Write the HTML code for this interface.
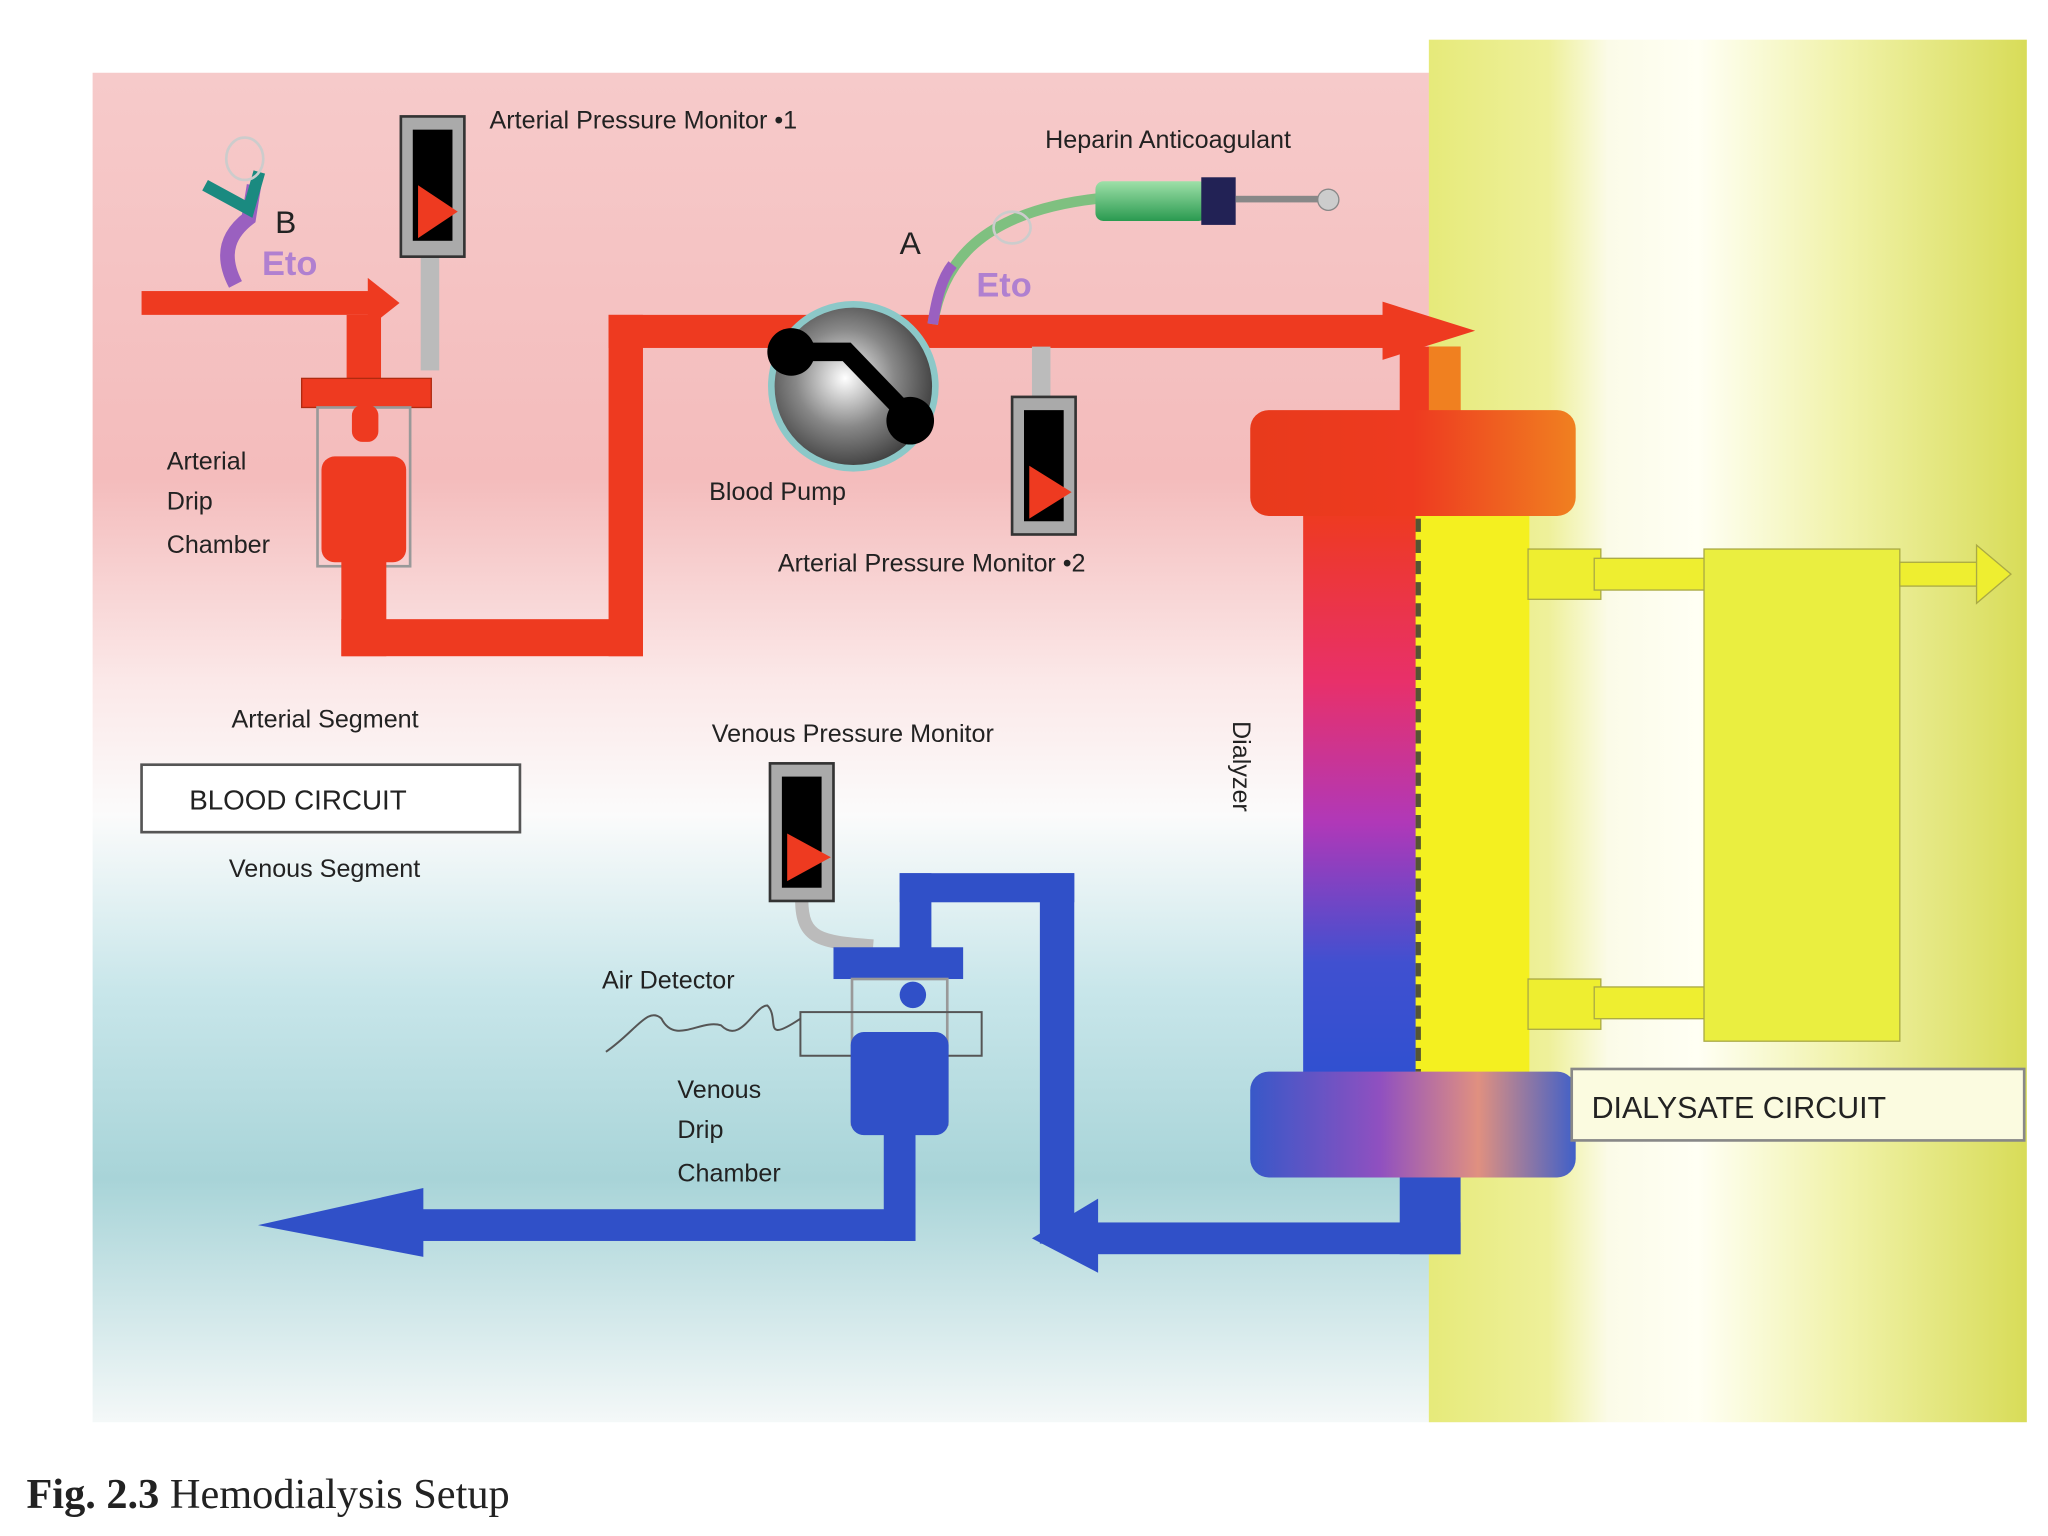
<!DOCTYPE html>
<html><head><meta charset="utf-8"><style>
html,body{margin:0;padding:0;background:#fff;width:2048px;height:1536px;overflow:hidden}
svg{display:block}
text{font-family:"Liberation Sans",sans-serif;fill:#222}
</style></head><body>
<svg width="2048" height="1536" viewBox="0 0 1548 1161" preserveAspectRatio="none" xmlns="http://www.w3.org/2000/svg">
<defs>
<linearGradient id="bgL" x1="0" y1="0" x2="0" y2="1">
<stop offset="0" stop-color="#f6caca"/><stop offset="0.3" stop-color="#f4bcbc"/><stop offset="0.45" stop-color="#fbe8e8"/><stop offset="0.55" stop-color="#fbfbfb"/><stop offset="0.68" stop-color="#c8e6ea"/><stop offset="0.82" stop-color="#a8d4d8"/><stop offset="1" stop-color="#f4f8f8"/>
</linearGradient>
<linearGradient id="bgR" x1="0" y1="0" x2="1" y2="0">
<stop offset="0" stop-color="#e6ea7a"/><stop offset="0.2" stop-color="#eef09a"/><stop offset="0.3" stop-color="#fbfbe8"/><stop offset="0.45" stop-color="#fffff4"/><stop offset="0.7" stop-color="#f0f2a8"/><stop offset="1" stop-color="#d8dc58"/>
</linearGradient>
<linearGradient id="body" x1="0" y1="0" x2="0" y2="1">
<stop offset="0" stop-color="#ee3a20"/><stop offset="0.3" stop-color="#e8306a"/><stop offset="0.55" stop-color="#b038b8"/><stop offset="0.8" stop-color="#4050d0"/><stop offset="1" stop-color="#3050d0"/>
</linearGradient>
<linearGradient id="capT" x1="0" y1="0" x2="1" y2="0">
<stop offset="0" stop-color="#e83a1c"/><stop offset="0.5" stop-color="#ee3a20"/><stop offset="1" stop-color="#f08020"/>
</linearGradient>
<linearGradient id="capB" x1="0" y1="0" x2="1" y2="0">
<stop offset="0" stop-color="#3858c8"/><stop offset="0.4" stop-color="#9050c0"/><stop offset="0.7" stop-color="#e09080"/><stop offset="1" stop-color="#4060c8"/>
</linearGradient>
<radialGradient id="pump" cx="0.45" cy="0.45" r="0.6">
<stop offset="0" stop-color="#ffffff"/><stop offset="0.5" stop-color="#888"/><stop offset="1" stop-color="#333"/>
</radialGradient>
<linearGradient id="syr" x1="0" y1="0" x2="0" y2="1"><stop offset="0" stop-color="#9ee0a8"/><stop offset="1" stop-color="#2a9a50"/></linearGradient>
</defs>
<rect width="1548" height="1161" fill="#fff"/>
<rect x="70" y="55" width="1012" height="1020" fill="url(#bgL)"/>
<rect x="1080" y="30" width="452" height="1045" fill="url(#bgR)"/>

<!-- red inlet arrow -->
<rect x="107" y="220" width="178" height="18" fill="#ee3a20"/>
<polygon points="278,210 302,229 278,248" fill="#ee3a20"/>
<rect x="262" y="238" width="26" height="60" fill="#ee3a20"/>
<!-- arterial drip chamber -->
<rect x="228" y="286" width="98" height="22" fill="#ee3a20" stroke="#b02a10" stroke-width="1"/>
<rect x="240" y="308" width="70" height="120" fill="none" stroke="#999" stroke-width="2"/>
<rect x="266" y="306" width="20" height="28" rx="8" fill="#ee3a20"/>
<rect x="243" y="345" width="64" height="80" rx="10" fill="#ee3a20"/>
<!-- red loop -->
<path d="M260 420 V494 H485 V262 H1062" fill="none" stroke="#ee3a20" stroke-width="0"/>
<rect x="258" y="420" width="34" height="76" fill="#ee3a20"/>
<rect x="258" y="468" width="228" height="28" fill="#ee3a20"/>
<rect x="460" y="238" width="26" height="258" fill="#ee3a20"/>
<rect x="460" y="238" width="600" height="25" fill="#ee3a20"/>
<polygon points="1045,228 1115,250 1045,272" fill="#ee3a20"/>
<rect x="1058" y="262" width="46" height="50" fill="#ee3a20"/>
<rect x="1080" y="262" width="24" height="50" fill="#f08020"/>
<!-- pressure monitor 1 -->
<rect x="318" y="190" width="14" height="90" fill="#bbb"/>
<rect x="303" y="88" width="48" height="106" fill="#aaa" stroke="#333" stroke-width="2"/>
<rect x="312" y="98" width="30" height="84" fill="#000"/>
<polygon points="316,140 346,160 316,180" fill="#ee3a20"/>
<!-- B eto -->
<path d="M178 215 C165 190 175 175 188 165 L192 140" stroke="#9a60c0" stroke-width="11" fill="none"/>
<path d="M155 140 L188 158 L196 130" stroke="#1a8a80" stroke-width="9" fill="none"/>
<ellipse cx="185" cy="120" rx="14" ry="16" fill="none" stroke="#ccc" stroke-width="2"/>
<text x="208" y="176" font-size="24">B</text>
<text x="198" y="208" font-size="26" font-weight="bold" fill="#b080d0" style="fill:#b080d0">Eto</text>
<text x="370" y="97" font-size="19">Arterial Pressure Monitor •1</text>
<text x="126" y="355" font-size="19">Arterial</text>
<text x="126" y="385" font-size="19">Drip</text>
<text x="126" y="418" font-size="19">Chamber</text>
<!-- pump -->
<circle cx="645" cy="292" r="62" fill="url(#pump)" stroke="#8cc8c8" stroke-width="5"/>
<path d="M598 266 L640 266 L690 318" stroke="#000" stroke-width="14" fill="none"/>
<circle cx="598" cy="266" r="18" fill="#000"/><circle cx="688" cy="318" r="18" fill="#000"/>
<text x="536" y="378" font-size="19">Blood Pump</text>
<!-- A heparin -->
<path d="M705 245 C712 200 740 160 830 150" stroke="#7fc080" stroke-width="8" fill="none"/>
<path d="M705 245 C708 225 712 210 720 200" stroke="#9a60c0" stroke-width="8" fill="none"/>
<ellipse cx="765" cy="172" rx="14" ry="12" fill="none" stroke="#ccc" stroke-width="2"/>
<text x="680" y="192" font-size="24">A</text>
<text x="738" y="224" font-size="26" font-weight="bold" style="fill:#b080d0">Eto</text>
<rect x="828" y="137" width="84" height="30" rx="6" fill="url(#syr)"/>
<rect x="908" y="134" width="26" height="36" fill="#225"/>
<rect x="934" y="148" width="68" height="5" fill="#888"/>
<circle cx="1004" cy="151" r="8" fill="#ccc" stroke="#888"/>
<text x="790" y="112" font-size="19">Heparin Anticoagulant</text>
<!-- pressure monitor 2 -->
<rect x="780" y="262" width="14" height="40" fill="#bbb"/>
<rect x="765" y="300" width="48" height="104" fill="#aaa" stroke="#333" stroke-width="2"/>
<rect x="774" y="310" width="30" height="84" fill="#000"/>
<polygon points="778,352 810,372 778,392" fill="#ee3a20"/>
<text x="588" y="432" font-size="19">Arterial Pressure Monitor •2</text>
<!-- labels -->
<text x="175" y="550" font-size="19">Arterial Segment</text>
<rect x="107" y="578" width="286" height="51" fill="#fff" stroke="#555" stroke-width="2"/>
<text x="143" y="612" font-size="21">BLOOD CIRCUIT</text>
<text x="173" y="663" font-size="19">Venous Segment</text>
<!-- dialyzer -->
<rect x="985" y="388" width="88" height="425" fill="url(#body)"/>
<rect x="1070" y="388" width="86" height="425" fill="#f4f020"/>
<line x1="1072" y1="392" x2="1072" y2="810" stroke="#553" stroke-width="4" stroke-dasharray="10,6"/>
<rect x="945" y="310" width="246" height="80" rx="14" fill="url(#capT)"/>
<rect x="945" y="810" width="246" height="80" rx="14" fill="url(#capB)"/>
<text x="932" y="545" font-size="19" transform="rotate(90 932 545)">Dialyzer</text>
<!-- dialysate -->
<rect x="1155" y="415" width="55" height="38" fill="#eeee30" stroke="#aa4" />
<rect x="1155" y="740" width="55" height="38" fill="#eeee30" stroke="#aa4"/>
<rect x="1205" y="422" width="85" height="24" fill="#eeee30" stroke="#aa4"/>
<rect x="1205" y="746" width="85" height="24" fill="#eeee30" stroke="#aa4"/>
<rect x="1288" y="415" width="148" height="372" fill="#eaee40" stroke="#aa4"/>
<rect x="1436" y="425" width="60" height="18" fill="#eeee30" stroke="#aa4"/>
<polygon points="1494,412 1520,434 1494,456" fill="#eeee30" stroke="#aa4"/>
<rect x="1188" y="808" width="342" height="54" fill="#fbfbe0" stroke="#888" stroke-width="2"/>
<text x="1203" y="845" font-size="23">DIALYSATE CIRCUIT</text>
<!-- blue return -->
<rect x="1058" y="890" width="46" height="58" fill="#3050c8"/>
<rect x="820" y="924" width="284" height="24" fill="#3050c8"/>
<polygon points="830,906 780,936 830,962" fill="#3050c8"/>
<rect x="786" y="660" width="26" height="280" fill="#3050c8"/>
<rect x="680" y="660" width="132" height="22" fill="#3050c8"/>
<rect x="680" y="660" width="24" height="60" fill="#3050c8"/>
<!-- venous monitor -->
<path d="M606 680 C606 710 620 712 660 715" stroke="#bbb" stroke-width="10" fill="none"/>
<rect x="582" y="577" width="48" height="104" fill="#aaa" stroke="#333" stroke-width="2"/>
<rect x="591" y="587" width="30" height="84" fill="#000"/>
<polygon points="595,630 628,648 595,666" fill="#ee3a20"/>
<text x="538" y="561" font-size="19">Venous Pressure Monitor</text>
<!-- venous drip chamber -->
<rect x="630" y="716" width="98" height="24" fill="#3050c8"/>
<rect x="644" y="740" width="72" height="110" fill="none" stroke="#999" stroke-width="2"/>
<circle cx="690" cy="752" r="10" fill="#3050c8"/>
<rect x="605" y="765" width="137" height="33" fill="none" stroke="#555" stroke-width="1.5"/>
<rect x="643" y="780" width="74" height="78" rx="10" fill="#3050c8"/>
<rect x="668" y="850" width="24" height="88" fill="#3050c8"/>
<rect x="300" y="914" width="392" height="24" fill="#3050c8"/>
<polygon points="320,898 195,926 320,950" fill="#3050c8"/>
<path d="M458 795 C480 780 490 760 500 770 C510 790 530 770 545 775 C560 790 570 760 580 760 C590 770 575 790 605 770" stroke="#555" fill="none" stroke-width="1.5"/>
<text x="455" y="747" font-size="19">Air Detector</text>
<text x="512" y="830" font-size="19">Venous</text>
<text x="512" y="860" font-size="19">Drip</text>
<text x="512" y="893" font-size="19">Chamber</text>
<!-- caption -->
<text x="20" y="1140" font-size="32" style="font-family:'Liberation Serif',serif"><tspan font-weight="bold">Fig. 2.3</tspan>  Hemodialysis Setup</text>
</svg>
</body></html>
